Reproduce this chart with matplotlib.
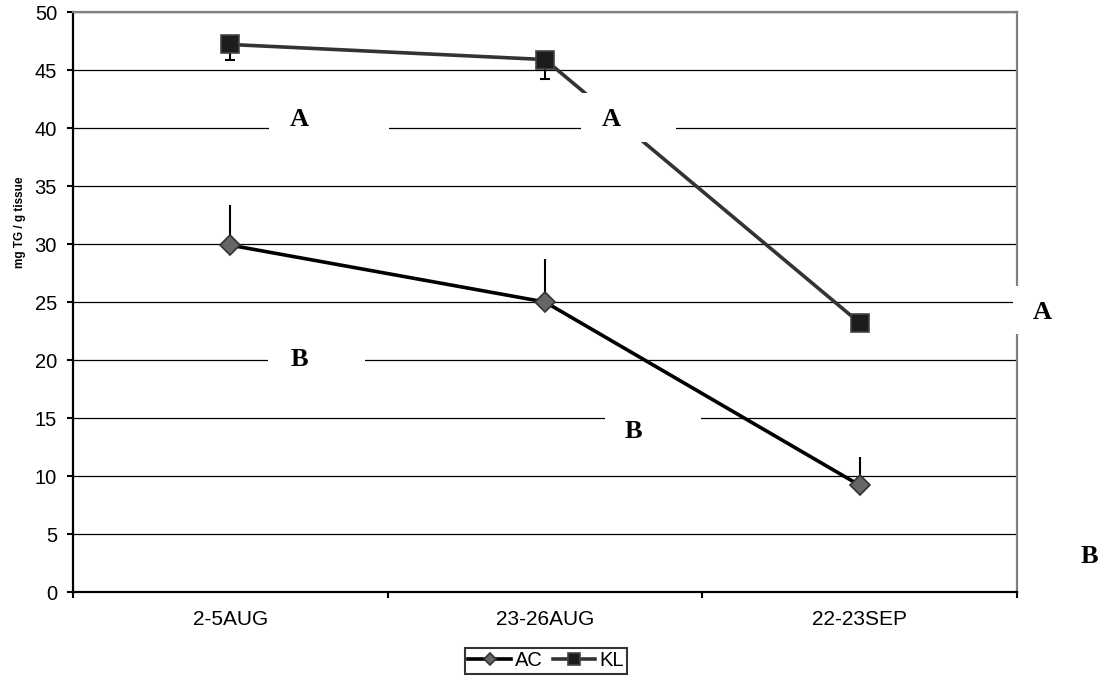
import matplotlib
matplotlib.use("Agg")
import matplotlib.pyplot as plt
from matplotlib.patches import Rectangle

# ---- data ----
categories = ["2-5AUG", "23-26AUG", "22-23SEP"]
ac_values = [29.9, 25.0, 9.2]
ac_err_up = [3.5, 3.7, 2.4]
kl_values = [47.2, 45.9, 23.2]
kl_err_down = [1.3, 1.7, 0.0]

# significance letters
letters = ["A", "A", "A", "B", "B", "B"]

# ---- layout of the letter boxes (data coords: x centre, y centre, box x0, x1, y0, y1) ----
letter_pos = [
    (0.22, 40.7, 0.124, 0.505, 38.8, 43.0),
    (1.21, 40.7, 1.114, 1.416, 38.8, 43.0),
    (2.58, 24.1, 2.486, 2.746, 22.2, 26.4),
    (0.22, 20.0, 0.121, 0.429, 17.4, 22.2),
    (1.28, 13.8, 1.190, 1.495, 11.2, 16.6),
    (2.73, 3.1, 2.680, 2.790, 1.5, 4.8),
]

plt.rcParams['font.family'] = ['Liberation Sans', 'DejaVu Sans']

fig = plt.figure(figsize=(11.06, 6.83), dpi=100)
ax = fig.add_axes([73 / 1106, 1 - 592 / 683, 944 / 1106, 580 / 683])

x = list(range(len(categories)))

# error bars (one sided)
ax.errorbar(x, ac_values, yerr=[[0] * 3, ac_err_up], fmt='none',
            ecolor='black', elinewidth=1.5, capsize=0, zorder=3)
ax.errorbar(x, kl_values, yerr=[kl_err_down, [0] * 3], fmt='none',
            ecolor='black', elinewidth=1.5, capsize=3.6, capthick=1.5, zorder=3)

ax.plot(x, ac_values, color='black', lw=2.6, marker='D', ms=10,
        mfc='#666666', mec='#333333', mew=1.2, label='AC', zorder=4)
ax.plot(x, kl_values, color='#333333', lw=2.6, marker='s', ms=13,
        mfc='#1c1c1c', mec='#444444', mew=1.2, label='KL', zorder=4)

# letters on white boxes
for txt, (tx, ty, bx0, bx1, by0, by1) in zip(letters, letter_pos):
    ax.add_patch(Rectangle((bx0, by0), bx1 - bx0, by1 - by0, facecolor='white',
                           edgecolor='none', clip_on=False, zorder=6))
    ax.text(tx, ty, txt, ha='center', va='center', fontsize=19, fontweight='bold',
            family=['Liberation Serif', 'DejaVu Serif'], zorder=7, clip_on=False)

ax.set_xlim(-0.5, 2.5)
ax.set_ylim(0, 50)
ax.set_yticks(range(0, 51, 5))
ax.set_xticks(x, categories)
ax.set_xticks([-0.5, 0.5, 1.5, 2.5], minor=True)
ax.tick_params(axis='x', which='major', length=0, pad=13, labelsize=15)
ax.tick_params(axis='x', which='minor', length=4, width=1.5, direction='out')
ax.tick_params(axis='y', length=4, width=1.5, direction='out', pad=7.5, labelsize=14.5)

ax.grid(axis='y', color='black', lw=0.9)
ax.set_axisbelow(True)

for side in ['left', 'bottom']:
    ax.spines[side].set_color('black')
    ax.spines[side].set_linewidth(1.6)
for side in ['top', 'right']:
    ax.spines[side].set_color('#808080')
    ax.spines[side].set_linewidth(1.6)

ax.set_ylabel('mg TG / g tissue', fontsize=8.5, fontweight='bold')
ax.yaxis.set_label_coords(-0.05, 0.638)

leg = fig.legend(loc='center', bbox_to_anchor=(546 / 1106, 1 - 661 / 683), ncol=2,
                 fontsize=14.5, frameon=True, fancybox=False, edgecolor='black',
                 markerscale=0.65, handlelength=2.1, handletextpad=0.2,
                 columnspacing=0.5, borderpad=0.15, borderaxespad=0)
leg.get_frame().set_linewidth(1.5)

fig.savefig('out.png', dpi=100)
